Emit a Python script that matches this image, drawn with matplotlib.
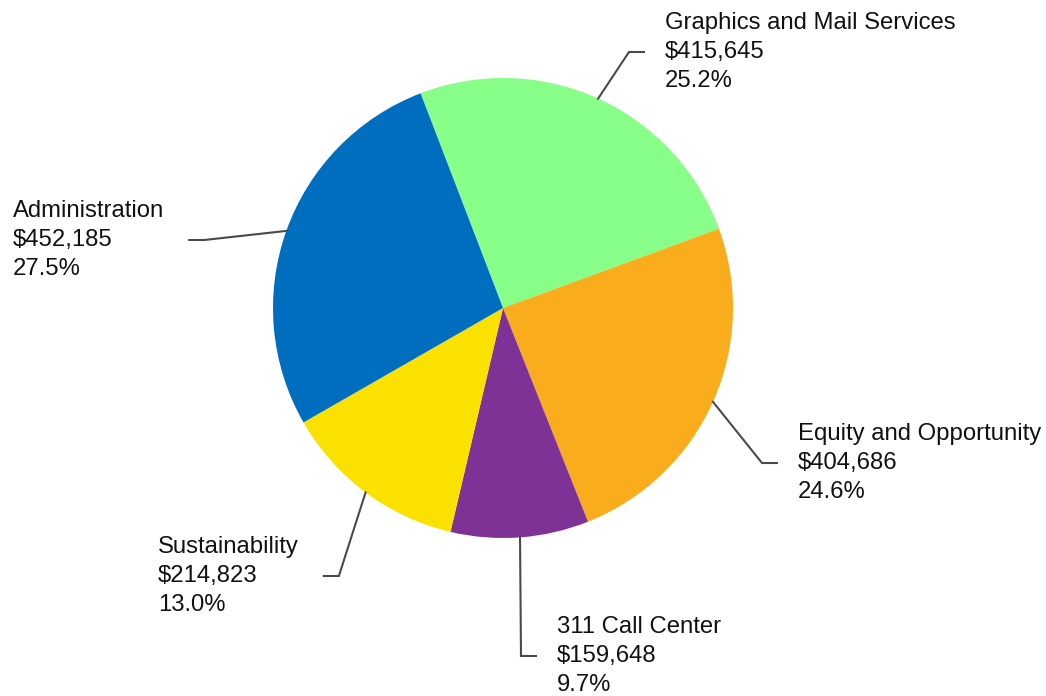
import matplotlib
matplotlib.use("Agg")
import numpy as np
import matplotlib.pyplot as plt

# budget by division
divisions = ["Graphics and Mail Services", "Equity and Opportunity", "311 Call Center",
             "Sustainability", "Administration"]
amounts = [415645, 404686, 159648, 214823, 452185]
colors = ["#88FF88", "#F9AC1C", "#7F3295", "#FAE100", "#006EBF"]

# label block anchors: left x of text, y of middle line (pixels, y down)
label_pos = [(665, 52), (798, 463), (557, 656), (158, 576), (13, 240)]
label_side = ["right", "right", "right", "left", "left"]

W, H = 1046, 696
fig = plt.figure(figsize=(W / 100, H / 100), dpi=100)
ax = fig.add_axes([0, 0, 1, 1])

cx, cy, R = 503, H - 308, 230
wedges, _ = ax.pie(amounts, colors=colors, startangle=111, counterclock=False,
                   center=(cx, cy), radius=R, frame=True,
                   wedgeprops=dict(linewidth=0))
ax.set_xlim(0, W)
ax.set_ylim(0, H)
ax.set_aspect("equal")
ax.axis("off")

total = sum(amounts)
texts = []
for name, amt, (tx, ty) in zip(divisions, amounts, label_pos):
    s = f"{name}\n${amt:,}\n{amt / total * 100:.1f}%"
    t = ax.text(tx, H - ty, s, ha="left", va="center", fontsize=17.2,
                color="#111111", linespacing=1.39,
                family=["Liberation Sans", "DejaVu Sans"])
    texts.append(t)

fig.canvas.draw()
renderer = fig.canvas.get_renderer()
for w, t, side, (tx, ty) in zip(wedges, texts, label_side, label_pos):
    mid = np.deg2rad((w.theta1 + w.theta2) / 2)
    ex, ey = cx + R * np.cos(mid), cy + R * np.sin(mid)
    y = H - ty
    if side == "right":
        end = tx - 21
        elbow = end - 15
    else:
        bb = t.get_window_extent(renderer)
        end = bb.x1 + 25
        elbow = end + 15
    ax.plot([ex, elbow, end], [ey, y, y], color="#4a4a4a", lw=1.5,
            solid_joinstyle="miter", zorder=3)

fig.savefig("out.png", dpi=100)
